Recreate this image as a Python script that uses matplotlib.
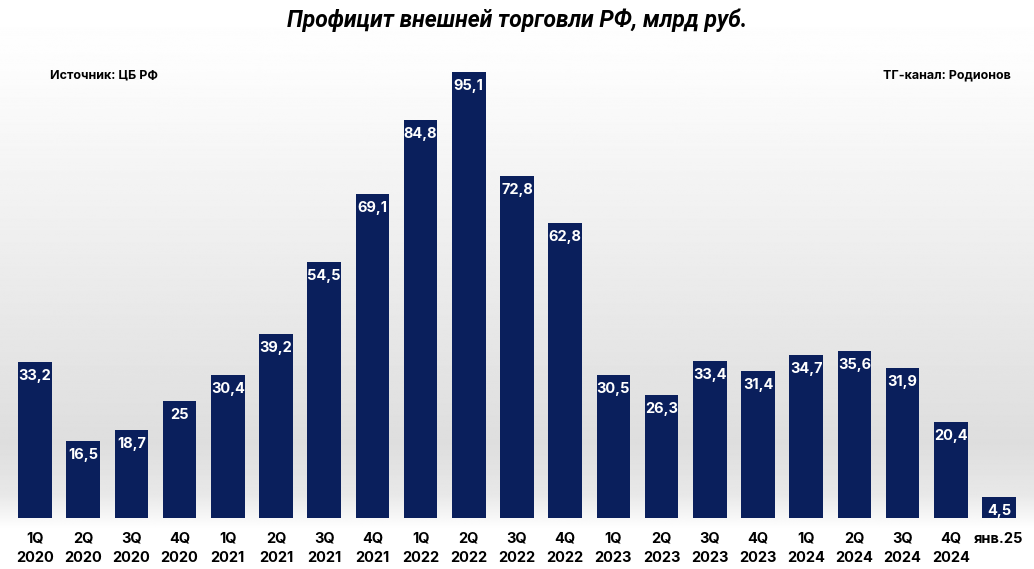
import matplotlib.pyplot as plt
import numpy as np

periods = ["1Q\n2020", "2Q\n2020", "3Q\n2020", "4Q\n2020",
           "1Q\n2021", "2Q\n2021", "3Q\n2021", "4Q\n2021",
           "1Q\n2022", "2Q\n2022", "3Q\n2022", "4Q\n2022",
           "1Q\n2023", "2Q\n2023", "3Q\n2023", "4Q\n2023",
           "1Q\n2024", "2Q\n2024", "3Q\n2024", "4Q\n2024", "янв.25"]
values = [33.2, 16.5, 18.7, 25, 30.4, 39.2, 54.5, 69.1, 84.8, 95.1, 72.8, 62.8,
          30.5, 26.3, 33.4, 31.4, 34.7, 35.6, 31.9, 20.4, 4.5]
labels = ["33,2", "16,5", "18,7", "25", "30,4", "39,2", "54,5", "69,1", "84,8", "95,1",
          "72,8", "62,8", "30,5", "26,3", "33,4", "31,4", "34,7", "35,6", "31,9", "20,4", "4,5"]

plt.rcParams['font.family'] = ['Inter', 'DejaVu Sans']
navy = '#0a1f5c'

fig = plt.figure(figsize=(10.34, 5.69), dpi=100)

# фон: градиент
bg = fig.add_axes([0, 0, 1, 1], zorder=0)
yy = np.linspace(0, 1, 600)  # 0 = верх
shade = np.interp(yy, [0, 0.12, 0.5, 0.78, 0.87, 0.93, 1.0],
                  [1.0, 0.99, 0.92, 0.87, 0.91, 1.0, 1.0])
grad = np.repeat(shade[:, None], 10, axis=1)
bg.imshow(grad, cmap='gray', vmin=0, vmax=1, aspect='auto', extent=[0, 1, 0, 1])
bg.axis('off')

ax = fig.add_axes([0, 51 / 569, 1, 518 / 569], zorder=1)
ax.patch.set_alpha(0)
x = np.arange(len(values))
ax.bar(x, values, width=0.7, color=navy)
for xi, v, t in zip(x, values, labels):
    ax.text(xi, v - 1.5, t, ha='center', va='top', color='white',
            fontsize=10.5, fontweight='bold')

ax.set_xlim(-35 / 48.2, (1034 - 35) / 48.2)
ax.set_ylim(0, 110.4)
ax.set_xticks(x)
ax.set_xticklabels(periods, fontsize=10.5, fontweight='bold', linespacing=1.45)
ax.tick_params(axis='x', length=0, pad=10)
ax.set_yticks([])
for s in ax.spines.values():
    s.set_visible(False)

fig.text(0.5, 0.965, "Профицит внешней торговли РФ, млрд руб.", ha='center', va='center',
         fontsize=16.5, fontweight='bold', style='italic', family=['Roboto', 'DejaVu Sans'])
fig.text(0.048, 0.868, "Источник: ЦБ РФ", ha='left', va='center', fontsize=9, fontweight='bold')
fig.text(0.978, 0.868, "ТГ-канал: Родионов", ha='right', va='center', fontsize=9, fontweight='bold')

fig.savefig("out.png", dpi=100)
